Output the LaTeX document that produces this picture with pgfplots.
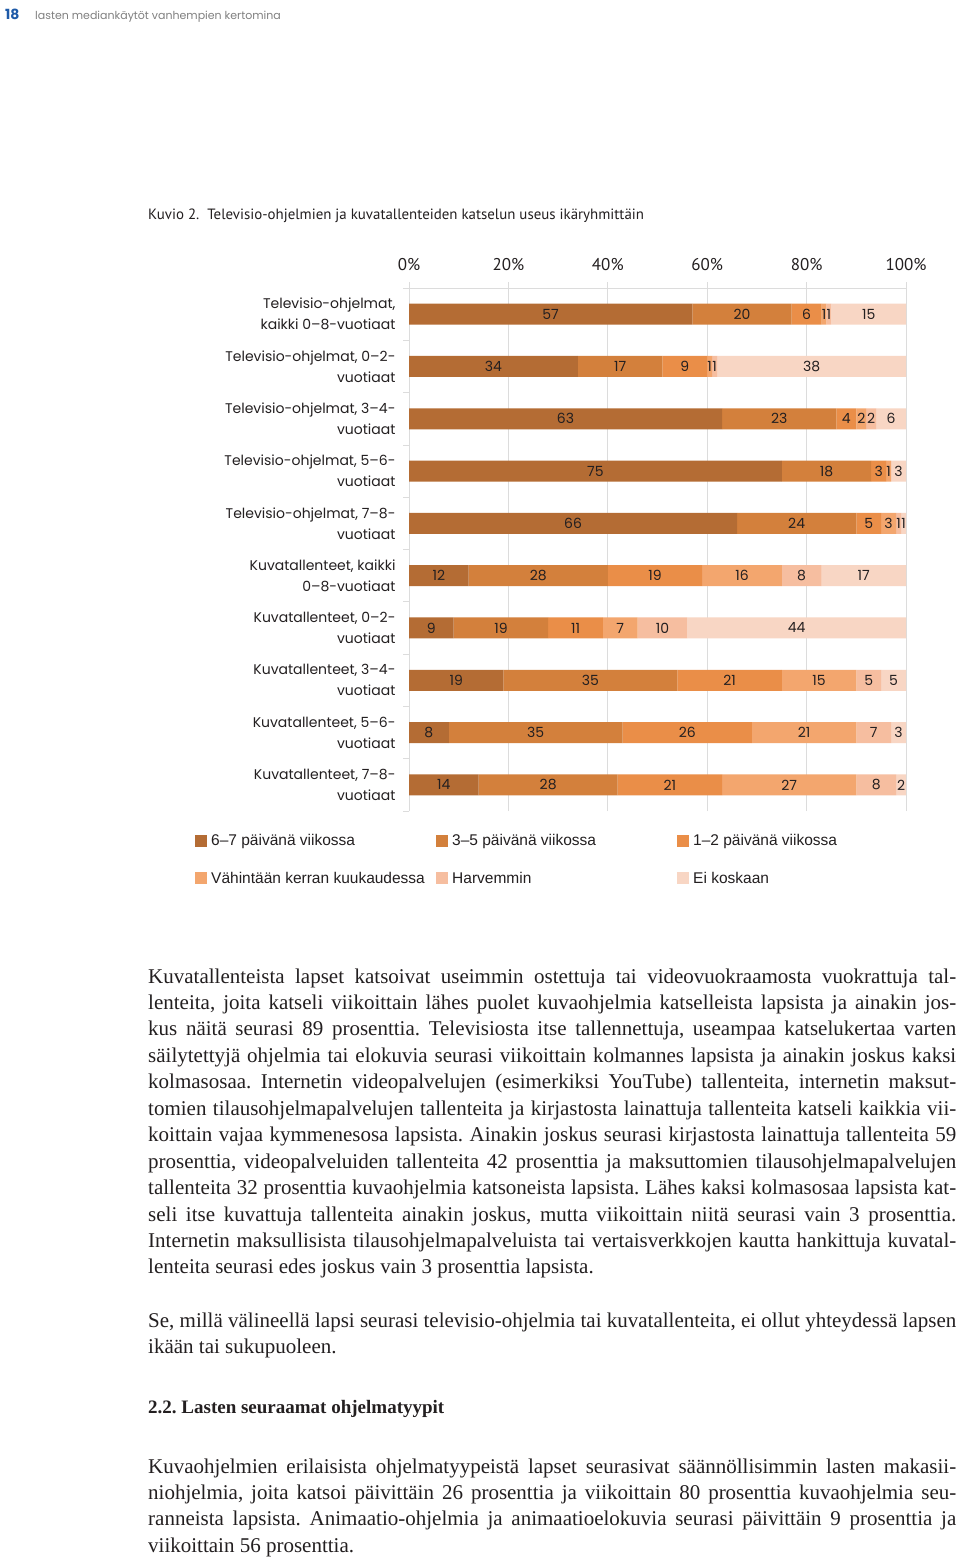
\documentclass[border=0pt]{standalone}
\usepackage{pgfplots}
\pgfplotsset{compat=1.18}
\usepackage{graphicx}
\usepackage{fontspec}
\setmainfont{Liberation Serif}
\newfontfamily\ptsans{PT Sans}
\newfontfamily\pop{Poppins}
\newfontfamily\libsans{Liberation Sans}
\definecolor{cA}{HTML}{B46C34}
\definecolor{cB}{HTML}{D3803C}
\definecolor{cC}{HTML}{EA8E48}
\definecolor{cD}{HTML}{F3A66E}
\definecolor{cE}{HTML}{F6BEA0}
\definecolor{cF}{HTML}{F8D6C4}
\definecolor{gridc}{HTML}{DCDCDC}
\definecolor{blue18}{HTML}{1E5AA8}
\definecolor{txt}{HTML}{231F20}
\pgfplotsset{
  segval/.code={%
    \begingroup
    \pgfkeys{/pgf/fpu=true,/pgf/fpu/output format=fixed}%
    \pgfmathparse{\pgfplotspointmeta}%
    \global\let\segval\pgfmathresult
    \endgroup
  },
  sqleg/.style={legend image code/.code={\fill[##1] (0pt,-6pt) rectangle (12pt,6pt);}},
}
\newsavebox\jbox
\newcommand\jl[1]{\sbox\jbox{#1}\ifdim\wd\jbox>808pt\relax\resizebox{808pt}{\height}{\usebox\jbox}\else\makebox[808pt][s]{#1}\fi\par}
\begin{document}
\frenchspacing
\begin{tikzpicture}
\fill[white, use as bounding box] (0pt,0pt) rectangle (960pt,-1560pt);
\node[anchor=base west, inner sep=0pt, text=blue18] at (5pt,-20pt) {\pop\bfseries\fontsize{14}{14}\selectfont 18};
\node[anchor=base west, inner sep=0pt, text=gray] at (35pt,-19.5pt) {\pop\fontsize{11}{11}\selectfont lasten mediankäytöt vanhempien kertomina};
\node[anchor=base west, inner sep=0pt, text=txt] at (148pt,-219pt) {\ptsans\fontsize{14.9}{15}\selectfont Kuvio 2.\ \ Televisio-ohjelmien ja kuvatallenteiden katselun useus ikäryhmittäin};
\begin{axis}[
  at={(657.5pt,-549.5pt)}, anchor=center,
  scale only axis, width=497pt, height=523pt,
  xbar stacked, bar width=21pt,
  xmin=0, xmax=100, ymin=-0.5, ymax=9.5,
  axis x line*=top, axis y line*=left,
  axis line style={draw=gridc, line width=0.8pt},
  xtick={0,20,40,60,80,100},
  xticklabels={0\%,20\%,40\%,60\%,80\%,100\%},
  xmajorgrids, major grid style={draw=gridc, line width=0.8pt},
  ytick={-0.5,0.5,1.5,2.5,3.5,4.5,5.5,6.5,7.5,8.5,9.5},
  y tick label as interval,
  yticklabels={
    {Kuvatallenteet, 7–8-\\vuotiaat},
    {Kuvatallenteet, 5–6-\\vuotiaat},
    {Kuvatallenteet, 3–4-\\vuotiaat},
    {Kuvatallenteet, 0–2-\\vuotiaat},
    {Kuvatallenteet, kaikki\\0–8-vuotiaat},
    {Televisio-ohjelmat, 7–8-\\vuotiaat},
    {Televisio-ohjelmat, 5–6-\\vuotiaat},
    {Televisio-ohjelmat, 3–4-\\vuotiaat},
    {Televisio-ohjelmat, 0–2-\\vuotiaat},
    {Televisio-ohjelmat,\\kaikki 0–8-vuotiaat}},
  tick align=outside, major tick length=6pt,
  tick style={draw=gridc, line width=0.8pt},
  xticklabel style={font=\ptsans\fontsize{17}{17}\selectfont, text=txt, yshift=8pt},
  yticklabel style={font=\pop\fontsize{14}{21}\selectfont, align=right, text=txt, xshift=-4pt},
  point meta=explicit,
  /pgf/number format/assume math mode=true,
  nodes near coords={{\pop\fontsize{14}{14}\selectfont\ifdim\segval pt>0.5pt\pgfmathprintnumber[assume math mode=true]{\segval}\fi}},
  every node near coord/.style={/pgfplots/segval, anchor=center, inner sep=0pt, text=txt},
  legend columns=3,
  legend cell align=left,
  legend style={draw=none, fill=none, at={(-0.4306,-0.0440)}, anchor=north west, column sep=4pt, row sep=25pt, inner sep=0pt, nodes={inner sep=0pt}, font=\libsans\fontsize{15.5}{16}\selectfont, text=txt},
]
\addplot[fill=cA, draw=none, sqleg] coordinates {(57,9) [57] (34,8) [34] (63,7) [63] (75,6) [75] (66,5) [66] (12,4) [12] (9,3) [9] (19,2) [19] (8,1) [8] (14,0) [14]};
\addlegendentry{\makebox[221pt][l]{6–7 päivänä viikossa}}
\addplot[fill=cB, draw=none, sqleg] coordinates {(20,9) [20] (17,8) [17] (23,7) [23] (18,6) [18] (24,5) [24] (28,4) [28] (19,3) [19] (35,2) [35] (35,1) [35] (28,0) [28]};
\addlegendentry{\makebox[221pt][l]{3–5 päivänä viikossa}}
\addplot[fill=cC, draw=none, sqleg] coordinates {(6,9) [6] (9,8) [9] (4,7) [4] (3,6) [3] (5,5) [5] (19,4) [19] (11,3) [11] (21,2) [21] (26,1) [26] (21,0) [21]};
\addlegendentry{\makebox[221pt][l]{1–2 päivänä viikossa}}
\addplot[fill=cD, draw=none, sqleg] coordinates {(1,9) [1] (1,8) [1] (2,7) [2] (1,6) [1] (3,5) [3] (16,4) [16] (7,3) [7] (15,2) [15] (21,1) [21] (27,0) [27]};
\addlegendentry{\makebox[221pt][l]{Vähintään kerran kuukaudessa}}
\addplot[fill=cE, draw=none, sqleg] coordinates {(1,9) [1] (1,8) [1] (2,7) [2] (0,6) [0] (1,5) [1] (8,4) [8] (10,3) [10] (5,2) [5] (7,1) [7] (8,0) [8]};
\addlegendentry{\makebox[221pt][l]{Harvemmin}}
\addplot[fill=cF, draw=none, sqleg] coordinates {(15,9) [15] (38,8) [38] (6,7) [6] (3,6) [3] (1,5) [1] (17,4) [17] (44,3) [44] (5,2) [5] (3,1) [3] (2,0) [2]};
\addlegendentry{\makebox[221pt][l]{Ei koskaan}}
\end{axis}
\node[anchor=base west, inner sep=0pt, text=txt] at (148pt,-983pt) {\begin{minipage}[t]{808pt}\fontsize{21}{26.45}\selectfont
\jl{Kuvatallenteista lapset katsoivat useimmin ostettuja tai videovuokraamosta vuokrattuja tal-}
\jl{lenteita, joita katseli viikoittain lähes puolet kuvaohjelmia katselleista lapsista ja ainakin jos-}
\jl{kus näitä seurasi 89 prosenttia. Televisiosta itse tallennettuja, useampaa katselukertaa varten}
\jl{säilytettyjä ohjelmia tai elokuvia seurasi viikoittain kolmannes lapsista ja ainakin joskus kaksi}
\jl{kolmasosaa. Internetin videopalvelujen (esimerkiksi YouTube) tallenteita, internetin maksut-}
\jl{tomien tilausohjelmapalvelujen tallenteita ja kirjastosta lainattuja tallenteita katseli kaikkia vii-}
\jl{koittain vajaa kymmenesosa lapsista. Ainakin joskus seurasi kirjastosta lainattuja tallenteita 59}
\jl{prosenttia, videopalveluiden tallenteita 42 prosenttia ja maksuttomien tilausohjelmapalvelujen}
\jl{tallenteita 32 prosenttia kuvaohjelmia katsoneista lapsista. Lähes kaksi kolmasosaa lapsista kat-}
\jl{seli itse kuvattuja tallenteita ainakin joskus, mutta viikoittain niitä seurasi vain 3 prosenttia.}
\jl{Internetin maksullisista tilausohjelmapalveluista tai vertaisverkkojen kautta hankittuja kuvatal-}
lenteita seurasi edes joskus vain 3 prosenttia lapsista.
\end{minipage}};
\node[anchor=base west, inner sep=0pt, text=txt] at (148pt,-1327pt) {\begin{minipage}[t]{808pt}\fontsize{21}{26.45}\selectfont
\jl{Se, millä välineellä lapsi seurasi televisio-ohjelmia tai kuvatallenteita, ei ollut yhteydessä lapsen}
ikään tai sukupuoleen.
\end{minipage}};
\node[anchor=base west, inner sep=0pt, text=txt] at (148pt,-1413pt) {\fontsize{19}{23}\selectfont\bfseries 2.2. Lasten seuraamat ohjelmatyypit};
\node[anchor=base west, inner sep=0pt, text=txt] at (148pt,-1473pt) {\begin{minipage}[t]{808pt}\fontsize{21}{26.45}\selectfont
\jl{Kuvaohjelmien erilaisista ohjelmatyypeistä lapset seurasivat säännöllisimmin lasten makasii-}
\jl{niohjelmia, joita katsoi päivittäin 26 prosenttia ja viikoittain 80 prosenttia kuvaohjelmia seu-}
\jl{ranneista lapsista. Animaatio-ohjelmia ja animaatioelokuvia seurasi päivittäin 9 prosenttia ja}
viikoittain 56 prosenttia.
\end{minipage}};
\end{tikzpicture}
\end{document}
